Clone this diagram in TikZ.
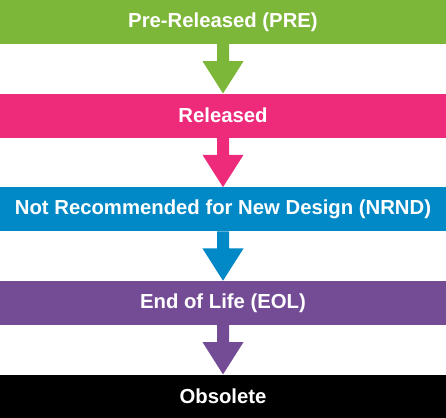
\documentclass[tikz,border=0pt]{standalone}
\usepackage{fontspec}
\setmainfont{Liberation Sans}
\usetikzlibrary{positioning}
\definecolor{pregreen}{HTML}{7DB73A}
\definecolor{relpink}{HTML}{EE2A7B}
\definecolor{nrndblue}{HTML}{0089C6}
\definecolor{eolpurple}{HTML}{744C96}
\newcommand{\stagearrow}[3]{%
  \fill[#3] ([xshift=-6pt]#1.south) -- ([xshift=-6pt,yshift=-17pt]#1.south) -- ([xshift=-20.5pt,yshift=-17pt]#1.south)
    -- (#2.north) -- ([xshift=20.5pt,yshift=-17pt]#1.south) -- ([xshift=6pt,yshift=-17pt]#1.south) -- ([xshift=6pt]#1.south) -- cycle;}

\begin{document}
\begin{tikzpicture}[x=1pt,y=1pt,stage/.style={minimum width=446pt,minimum height=44pt,inner sep=0pt,text=white,font=\fontsize{20.3}{22}\selectfont\bfseries}]
  \useasboundingbox (0,0) rectangle (446,417);
  %stages
  \node[stage,fill=pregreen] (pre) at (223,395){Pre-Released (PRE)};
  \node[stage,fill=relpink,below=49.25pt of pre] (rel){Released};
  \node[stage,fill=nrndblue,below=49.25pt of rel] (nrnd){Not Recommended for New Design (NRND)};
  \node[stage,fill=eolpurple,below=49.25pt of nrnd] (eol){End of Life (EOL)};
  \node[stage,fill=black,below=49.25pt of eol] (obs){Obsolete};
  %arrows
  \stagearrow{pre}{rel}{pregreen}
  \stagearrow{rel}{nrnd}{relpink}
  \stagearrow{nrnd}{eol}{nrndblue}
  \stagearrow{eol}{obs}{eolpurple}
\end{tikzpicture}
\end{document}
